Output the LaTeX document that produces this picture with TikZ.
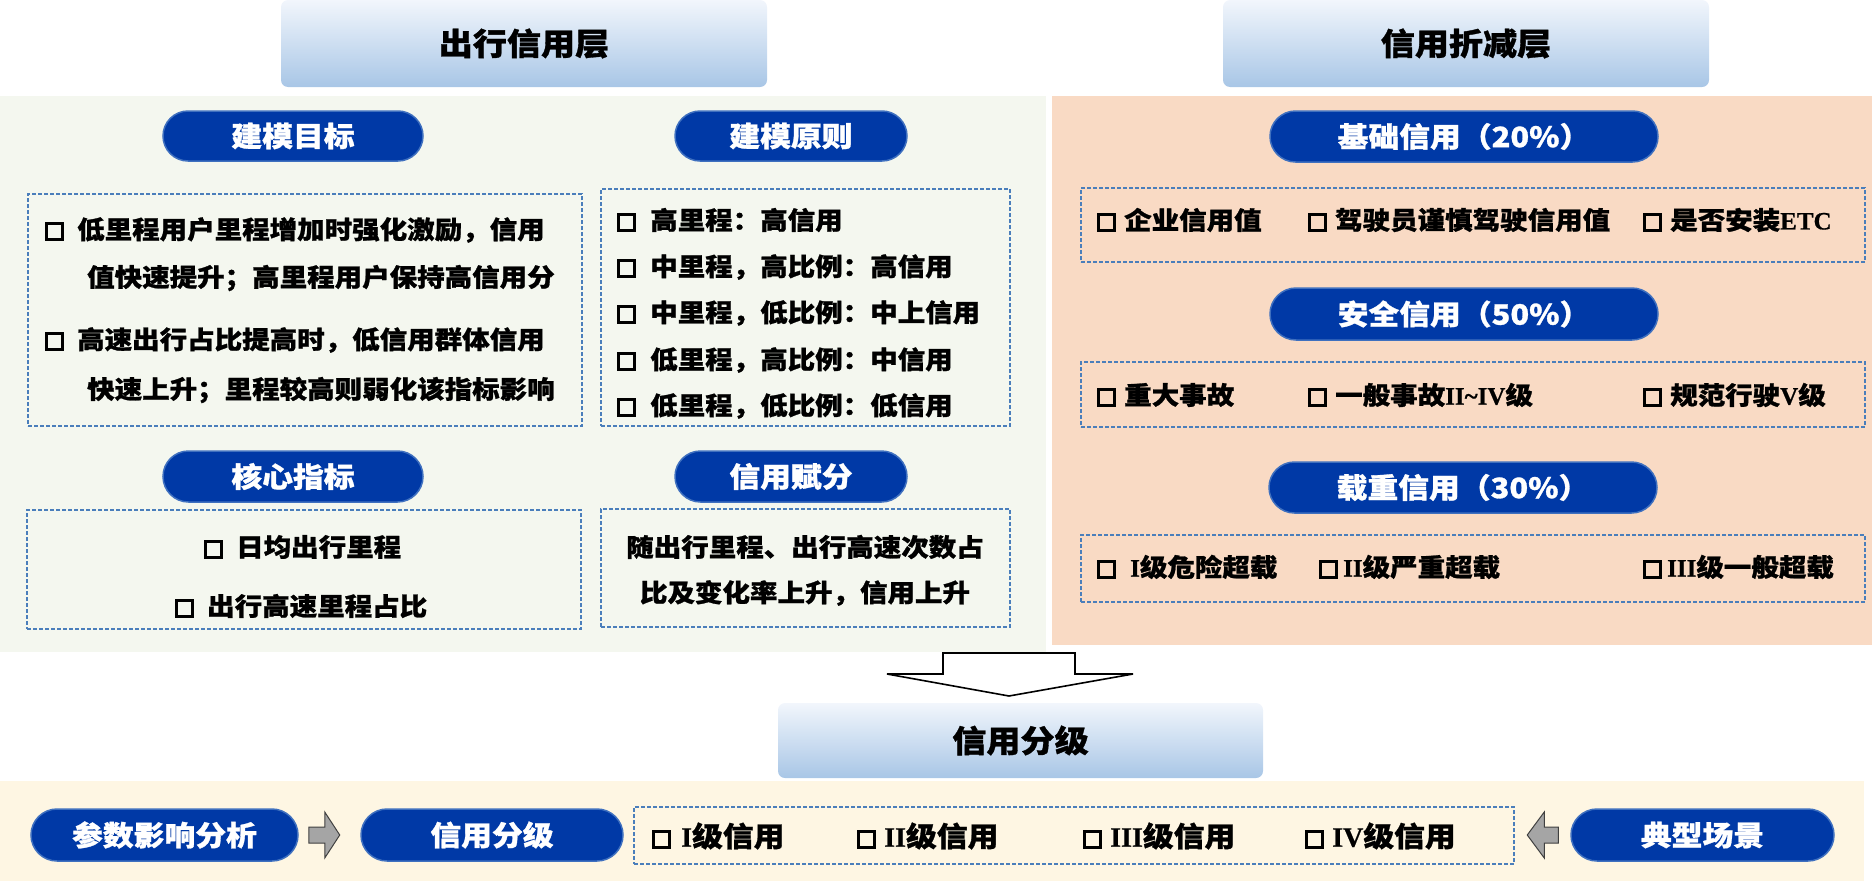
\documentclass[tikz,border=0pt]{standalone}
\usepackage{fontspec}
\setmainfont{Noto Sans CJK SC}[FakeStretch=1.1, BoldFeatures={FakeBold=1}]
\newfontfamily\ser{Liberation Serif}[BoldFeatures={FakeBold=0.6}]
\usetikzlibrary{shapes.misc}
\definecolor{pillblue}{HTML}{0039A6}
\definecolor{pilledge}{HTML}{3F70BF}
\definecolor{dashblue}{HTML}{4A7EBB}
\definecolor{greenbg}{HTML}{F4F7EF}
\definecolor{peachbg}{HTML}{F9DAC4}
\definecolor{yellowbg}{HTML}{FEF6E3}
\definecolor{headtop}{HTML}{F2F6FC}
\definecolor{headbot}{HTML}{A8C6E6}
\definecolor{arrowgray}{HTML}{A5A5A5}
\newcommand\bx{\raisebox{0.02em}{\setlength\fboxrule{3pt}\setlength\fboxsep{0pt}\fbox{\rule{0pt}{13pt}\hspace{13pt}}}}
\newcommand\la[1]{{\ser\bfseries #1}}
\tikzset{
  header/.style={rounded corners=7pt, top color=headtop, bottom color=headbot, draw=none,
    font=\bfseries\fontsize{31}{36}\selectfont, inner sep=0pt},
  pill/.style={rounded rectangle, fill=pillblue, draw=pilledge, line width=1.5pt, text=white,
    font=\bfseries\fontsize{28}{33}\selectfont, inner sep=0pt},
  dbox/.style={draw=dashblue, line width=1.4pt, dash pattern=on 4pt off 2pt, inner sep=0pt},
  txt/.style={font=\bfseries\fontsize{25}{30}\selectfont, inner sep=0pt, anchor=west},
  btxt/.style={font=\bfseries\fontsize{28}{33}\selectfont, inner sep=0pt, anchor=west},
  ctxt/.style={font=\bfseries\fontsize{25}{30}\selectfont, inner sep=0pt},
  bigarrow/.style={fill=white, draw=black, line width=1.6pt, line join=miter},
  smallarrow/.style={fill=arrowgray, draw=black!75, line width=1pt},
}
\begin{document}
\begin{tikzpicture}[x=1pt,y=-1pt]
\useasboundingbox (0,0) rectangle (1872,881);
% panels
\fill[greenbg] (0,96) rectangle (1046,652);
\fill[peachbg] (1052,96) rectangle (1872,645);
\fill[yellowbg] (0,781) rectangle (1864,881);
% headers
\node[header, minimum width=486pt, minimum height=87pt] (h1) at (524,43.5) {出行信用层};
\node[header, minimum width=486pt, minimum height=87pt] (h2) at (1466,43.5) {信用折减层};
\node[header, minimum width=485pt, minimum height=75pt] (h3) at (1020.5,740.5) {信用分级};
% pills green
\node[pill, minimum width=260pt, minimum height=50pt] (p1) at (293,136) {建模目标};
\node[pill, minimum width=232pt, minimum height=50pt] (p2) at (791,136) {建模原则};
\node[pill, minimum width=260pt, minimum height=51pt] (p3) at (293,476.5) {核心指标};
\node[pill, minimum width=232pt, minimum height=51pt] (p4) at (791,476.5) {信用赋分};
% pills peach
\node[pill, minimum width=388pt, minimum height=51pt] (q1) at (1464,136.5) {基础信用（20\%）};
\node[pill, minimum width=388pt, minimum height=52pt] (q2) at (1464,314) {安全信用（50\%）};
\node[pill, minimum width=388pt, minimum height=51pt] (q3) at (1463,487.5) {载重信用（30\%）};
% pills bottom
\node[pill, minimum width=267pt, minimum height=52pt] (r1) at (164.5,835) {参数影响分析};
\node[pill, minimum width=262pt, minimum height=52pt] (r2) at (492,835) {信用分级};
\node[pill, minimum width=263pt, minimum height=52pt] (r3) at (1702.5,835) {典型场景};
% dashed boxes
\node[dbox, minimum width=554pt, minimum height=232pt] (b1) at (305,310) {};
\node[dbox, minimum width=409pt, minimum height=237pt] (b2) at (805.5,307.5) {};
\node[dbox, minimum width=554pt, minimum height=119pt] (b3) at (304,569.5) {};
\node[dbox, minimum width=409pt, minimum height=118pt] (b4) at (805.5,568) {};
\node[dbox, minimum width=784pt, minimum height=74pt] (c1) at (1473,225) {};
\node[dbox, minimum width=784pt, minimum height=65pt] (c2) at (1473,394.5) {};
\node[dbox, minimum width=784pt, minimum height=67pt] (c3) at (1473,568.5) {};
\node[dbox, minimum width=880pt, minimum height=57pt] (d1) at (1074,835.5) {};
% texts box 1
\node[txt] (t11) at (45,230) {\bx\hspace{13pt}低里程用户里程增加时强化激励，信用};
\node[txt] (t12) at (87,278) {值快速提升；高里程用户保持高信用分};
\node[txt] (t13) at (45,340) {\bx\hspace{13pt}高速出行占比提高时，低信用群体信用};
\node[txt] (t14) at (87,390) {快速上升；里程较高则弱化该指标影响};
% box 2
\node[txt] (t21) at (617,220) {\bx\hspace{14pt}高里程：高信用};
\node[txt] (t22) at (617,267) {\bx\hspace{14pt}中里程，高比例：高信用};
\node[txt] (t23) at (617,313) {\bx\hspace{14pt}中里程，低比例：中上信用};
\node[txt] (t24) at (617,360) {\bx\hspace{14pt}低里程，高比例：中信用};
\node[txt] (t25) at (617,406) {\bx\hspace{14pt}低里程，低比例：低信用};
% box 3
\node[txt] (t31) at (204,547) {\bx\hspace{13pt}日均出行里程};
\node[txt] (t32) at (175,606) {\bx\hspace{13pt}出行高速里程占比};
% box 4
\node[ctxt] (t41) at (805,547) {随出行里程、出行高速次数占};
\node[ctxt] (t42) at (805,593) {比及变化率上升，信用上升};
% peach texts
\node[txt] (u11) at (1097,220) {\bx\hspace{8pt}企业信用值};
\node[txt] (u12) at (1308,220) {\bx\hspace{8pt}驾驶员谨慎驾驶信用值};
\node[txt] (u13) at (1643,220) {\bx\hspace{8pt}是否安装{\ser ETC}};
\node[txt] (u21) at (1097,395) {\bx\hspace{8pt}重大事故};
\node[txt] (u22) at (1308,395) {\bx\hspace{8pt}一般事故\la{II\textasciitilde IV}级};
\node[txt] (u23) at (1643,395) {\bx\hspace{8pt}规范行驶\la{V}级};
\node[txt] (u31) at (1097,567) {\bx\hspace{14pt}\la{I}级危险超载};
\node[txt] (u32) at (1319,567) {\bx\hspace{5pt}\la{II}级严重超载};
\node[txt] (u33) at (1643,567) {\bx\hspace{5pt}\la{III}级一般超载};
% bottom texts
\node[btxt] (v1) at (652,836) {\bx\hspace{10pt}\la{I}级信用};
\node[btxt] (v2) at (857,836) {\bx\hspace{8pt}\la{II}级信用};
\node[btxt] (v3) at (1083,836) {\bx\hspace{8pt}\la{III}级信用};
\node[btxt] (v4) at (1305,836) {\bx\hspace{8pt}\la{IV}级信用};
% big down arrow
\draw[bigarrow] (943,653) -- (1075,653) -- (1075,674) -- (1133,674) -- (1009,696)
  -- (887,674) -- (943,674) -- cycle;
% small arrows
\draw[smallarrow] ([xshift=10pt]r1.east) ++(0,-8) -- ++(16,0) -- ++(0,-15) -- ++(15,23) -- ++(-15,23) -- ++(0,-15) -- ++(-16,0) -- cycle;
\draw[smallarrow] ([xshift=-12pt]r3.west) ++(0,-8) -- ++(-14,0) -- ++(0,-15) -- ++(-17,23) -- ++(17,23) -- ++(0,-15) -- ++(14,0) -- cycle;
\end{tikzpicture}
\end{document}
